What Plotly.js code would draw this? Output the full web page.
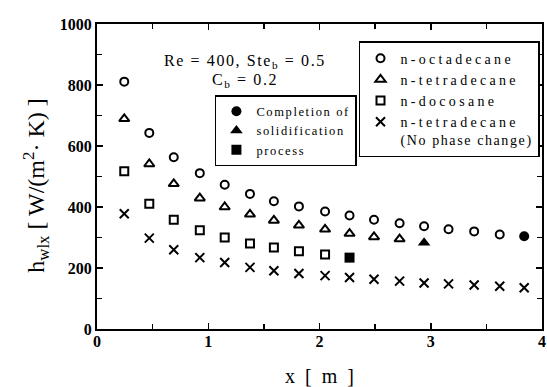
<!DOCTYPE html>
<html>
<head>
<meta charset="utf-8">
<script src="https://cdn.plot.ly/plotly-3.0.1.min.js"></script>
<style>
html,body{margin:0;padding:0;background:#fff;}
#chart{width:547px;height:387px;}
text.legendtext{letter-spacing:3.3px;}
text.legendtext tspan.line:nth-of-type(2){letter-spacing:1.6px;}
text.legend2text{letter-spacing:1.6px;}
.annotation-text{letter-spacing:1.6px;}
.xtick text, .ytick text{font-weight:bold !important;}
</style>
</head>
<body>
<div id="chart"></div>
<script>
// Data
const octX = [0.245,0.47,0.69,0.924,1.148,1.375,1.59,1.815,2.05,2.27,2.49,2.72,2.94,3.16,3.39,3.62];
const octY = [811,643,563,511,473,443,419,402,385,372,358,347,337,327,320,310];
const tetX = [0.245,0.47,0.69,0.924,1.148,1.375,1.59,1.815,2.05,2.27,2.49,2.72];
const tetY = [689,541,476,429,400,376,356,340,327,313,302,295];
const docX = [0.245,0.47,0.69,0.924,1.148,1.375,1.59,1.815,2.05];
const docY = [517,411,358,324,300,280,267,255,244];
const npcX = [0.245,0.47,0.69,0.924,1.148,1.375,1.59,1.815,2.05,2.27,2.49,2.72,2.94,3.16,3.39,3.62,3.84];
const npcY = [378,298,260,234,218,202,191,182,175,169,163,157,151,148,144,140,135];
const endOctX = [3.84], endOctY = [304];
const endTetX = [2.94], endTetY = [283];
const endDocX = [2.27], endDocY = [234];
const seriesNames = ['n-octadecane','n-tetradecane','n-docosane','n-tetradecane<br>(No phase change)'];
const endNames = ['Completion of','solidification','process'];

const serif = 'Liberation Serif, Times New Roman, serif';
const black = '#000';

const traces = [
  {x: octX, y: octY, name: seriesNames[0], type:'scatter', mode:'markers', legend:'legend',
   marker:{symbol:'circle-open', size:8, color:black, line:{width:2, color:black}}},
  {x: tetX, y: tetY, name: seriesNames[1], type:'scatter', mode:'markers', legend:'legend',
   marker:{symbol:'triangle-up-open', size:9, color:black, line:{width:2, color:black}}},
  {x: docX, y: docY, name: seriesNames[2], type:'scatter', mode:'markers', legend:'legend',
   marker:{symbol:'square-open', size:8, color:black, line:{width:2, color:black}}},
  {x: npcX, y: npcY, name: seriesNames[3], type:'scatter', mode:'markers', legend:'legend',
   marker:{symbol:'x-thin-open', size:9, color:black, line:{width:2, color:black}}},
  {x: endOctX, y: endOctY, name: endNames[0], type:'scatter', mode:'markers', legend:'legend2',
   marker:{symbol:'circle', size:10, color:black}},
  {x: endTetX, y: endTetY, name: endNames[1], type:'scatter', mode:'markers', legend:'legend2',
   marker:{symbol:'triangle-up', size:11, color:black}},
  {x: endDocX, y: endDocY, name: endNames[2], type:'scatter', mode:'markers', legend:'legend2',
   marker:{symbol:'square', size:10, color:black}}
];

const layout = {
  width:547, height:387,
  margin:{l:97, r:5, t:24, b:58},
  paper_bgcolor:'#fff', plot_bgcolor:'#fff',
  font:{family:serif, color:black},
  showlegend:true,
  xaxis:{
    range:[0,4], dtick:1, tick0:0, showgrid:false, zeroline:false,
    showline:true, linewidth:2, linecolor:black, mirror:'ticks',
    ticks:'inside', ticklen:6, tickwidth:1.5, tickcolor:black,
    minor:{dtick:0.5, ticks:'inside', ticklen:5, tickwidth:1.5, tickcolor:black},
    tickfont:{family:serif, size:16, weight:'bold'}, ticklabelstandoff:-3,
    title:{text:'x  [  m  ]', font:{family:serif, size:20}, standoff:20}
  },
  yaxis:{
    range:[0,1000], dtick:200, tick0:0, showgrid:false, zeroline:false,
    showline:true, linewidth:2, linecolor:black, mirror:'ticks',
    ticks:'inside', ticklen:6, tickwidth:1.5, tickcolor:black,
    minor:{dtick:100, ticks:'inside', ticklen:5, tickwidth:1.5, tickcolor:black},
    tickfont:{family:serif, size:16, weight:'bold'},
    title:{text:'h<sub>wlx</sub> [ W/(m<sup>2</sup>· K) ]&nbsp;&nbsp;&nbsp;', font:{family:serif, size:24}, standoff:8}
  },
  legend:{
    x:0.9955, xanchor:'right', y:0.944, yanchor:'top', valign:'top',
    bgcolor:'#fff', bordercolor:black, borderwidth:1.5,
    font:{family:serif, size:14, color:black}, tracegroupgap:0, itemwidth:30
  },
  legend2:{
    x:0.265, xanchor:'left', y:0.767, yanchor:'top',
    bgcolor:'#fff', bordercolor:black, borderwidth:1.5,
    font:{family:serif, size:12.5, color:black}, tracegroupgap:0, itemwidth:30
  },
  annotations:[
    {xref:'paper', yref:'paper', x:0.333, y:0.876, xanchor:'center', yanchor:'middle', text:'Re = 400, Ste<sub>b</sub> = 0.5',
     showarrow:false, font:{family:serif, size:16, color:black}},
    {xref:'paper', yref:'paper', x:0.333, y:0.814, xanchor:'center', yanchor:'middle', text:'C<sub>b</sub> = 0.2',
     showarrow:false, font:{family:serif, size:16, color:black}}
  ]
};

Plotly.newPlot('chart', traces, layout, {displayModeBar:false, staticPlot:true});
</script>
</body>
</html>
